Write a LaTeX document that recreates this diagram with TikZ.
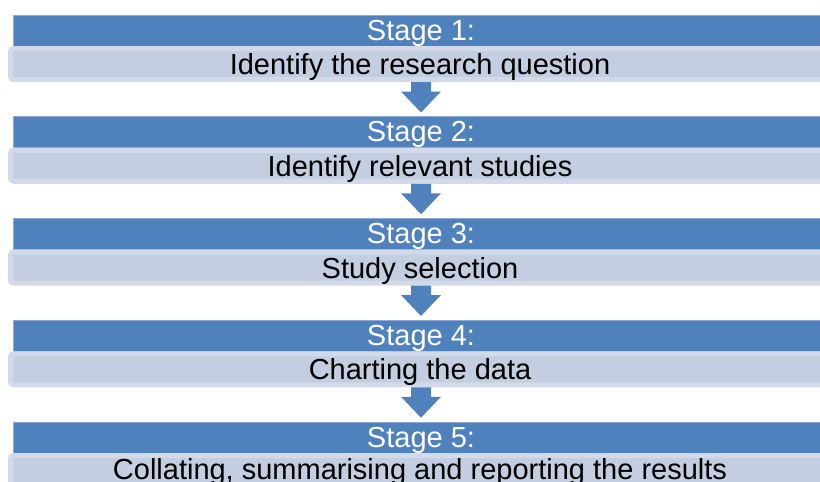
\documentclass[tikz,border=0pt]{standalone}
\usepackage{fontspec}
\setmainfont{Liberation Sans}
\definecolor{darkblue}{HTML}{4F81BD}
\definecolor{darkedge}{HTML}{8EA9D6}
\definecolor{lightin}{HTML}{C3CEE0}
\definecolor{lightout}{HTML}{D2DAE9}
\tikzset{
  darkbar/.style={draw=darkedge, line width=1pt, fill=darkblue, anchor=north west, minimum width=830pt, minimum height=31pt, inner sep=0pt, outer sep=0pt},
  lightbar/.style={draw=lightout, line width=5pt, fill=lightin, rounded corners=3pt, anchor=north west, minimum width=825pt, minimum height=31pt, inner sep=0pt, outer sep=0pt},
  stagetxt/.style={text=white, font=\fontsize{29}{34}\selectfont, anchor=base, inner sep=0pt},
  desctxt/.style={text=black, font=\fontsize{29}{34}\selectfont, anchor=base, inner sep=0pt},
  blockarrow/.style={fill=darkblue}
}
\begin{document}
\begin{tikzpicture}[x=1pt,y=-1pt]
\useasboundingbox (0,0) rectangle (820,482);
\clip (0,0) rectangle (820,482);
\foreach \i/\desc/\dy in {1/Identify the research question/59.5,2/Identify relevant studies/59.5,3/Study selection/59.5,4/Charting the data/59.5,5/{Collating, summarising and reporting the results}/57}{
  \pgfmathsetmacro{\top}{15+101.75*(\i-1)}
  \node[darkbar] (d\i) at (13,\top) {};
  \node[lightbar] (l\i) at (10.5,\top+33.5) {};
  \node[stagetxt] (s\i) at (421,\top+25) {Stage \i:};
  \node[desctxt] (t\i) at (420,\top+\dy) {\desc};
}
\foreach \i in {1,2,3,4}{
  \pgfmathsetmacro{\ay}{15+101.75*(\i-1)+67}
  \coordinate (a\i) at (421,\ay);
  \fill[blockarrow] (a\i) ++(-10,0) -- ++(0,9.5) -- ++(-10,0) -- ++(20,21) -- ++(20,-21) -- ++(-10,0) -- ++(0,-9.5) -- cycle;
}
\end{tikzpicture}
\end{document}
